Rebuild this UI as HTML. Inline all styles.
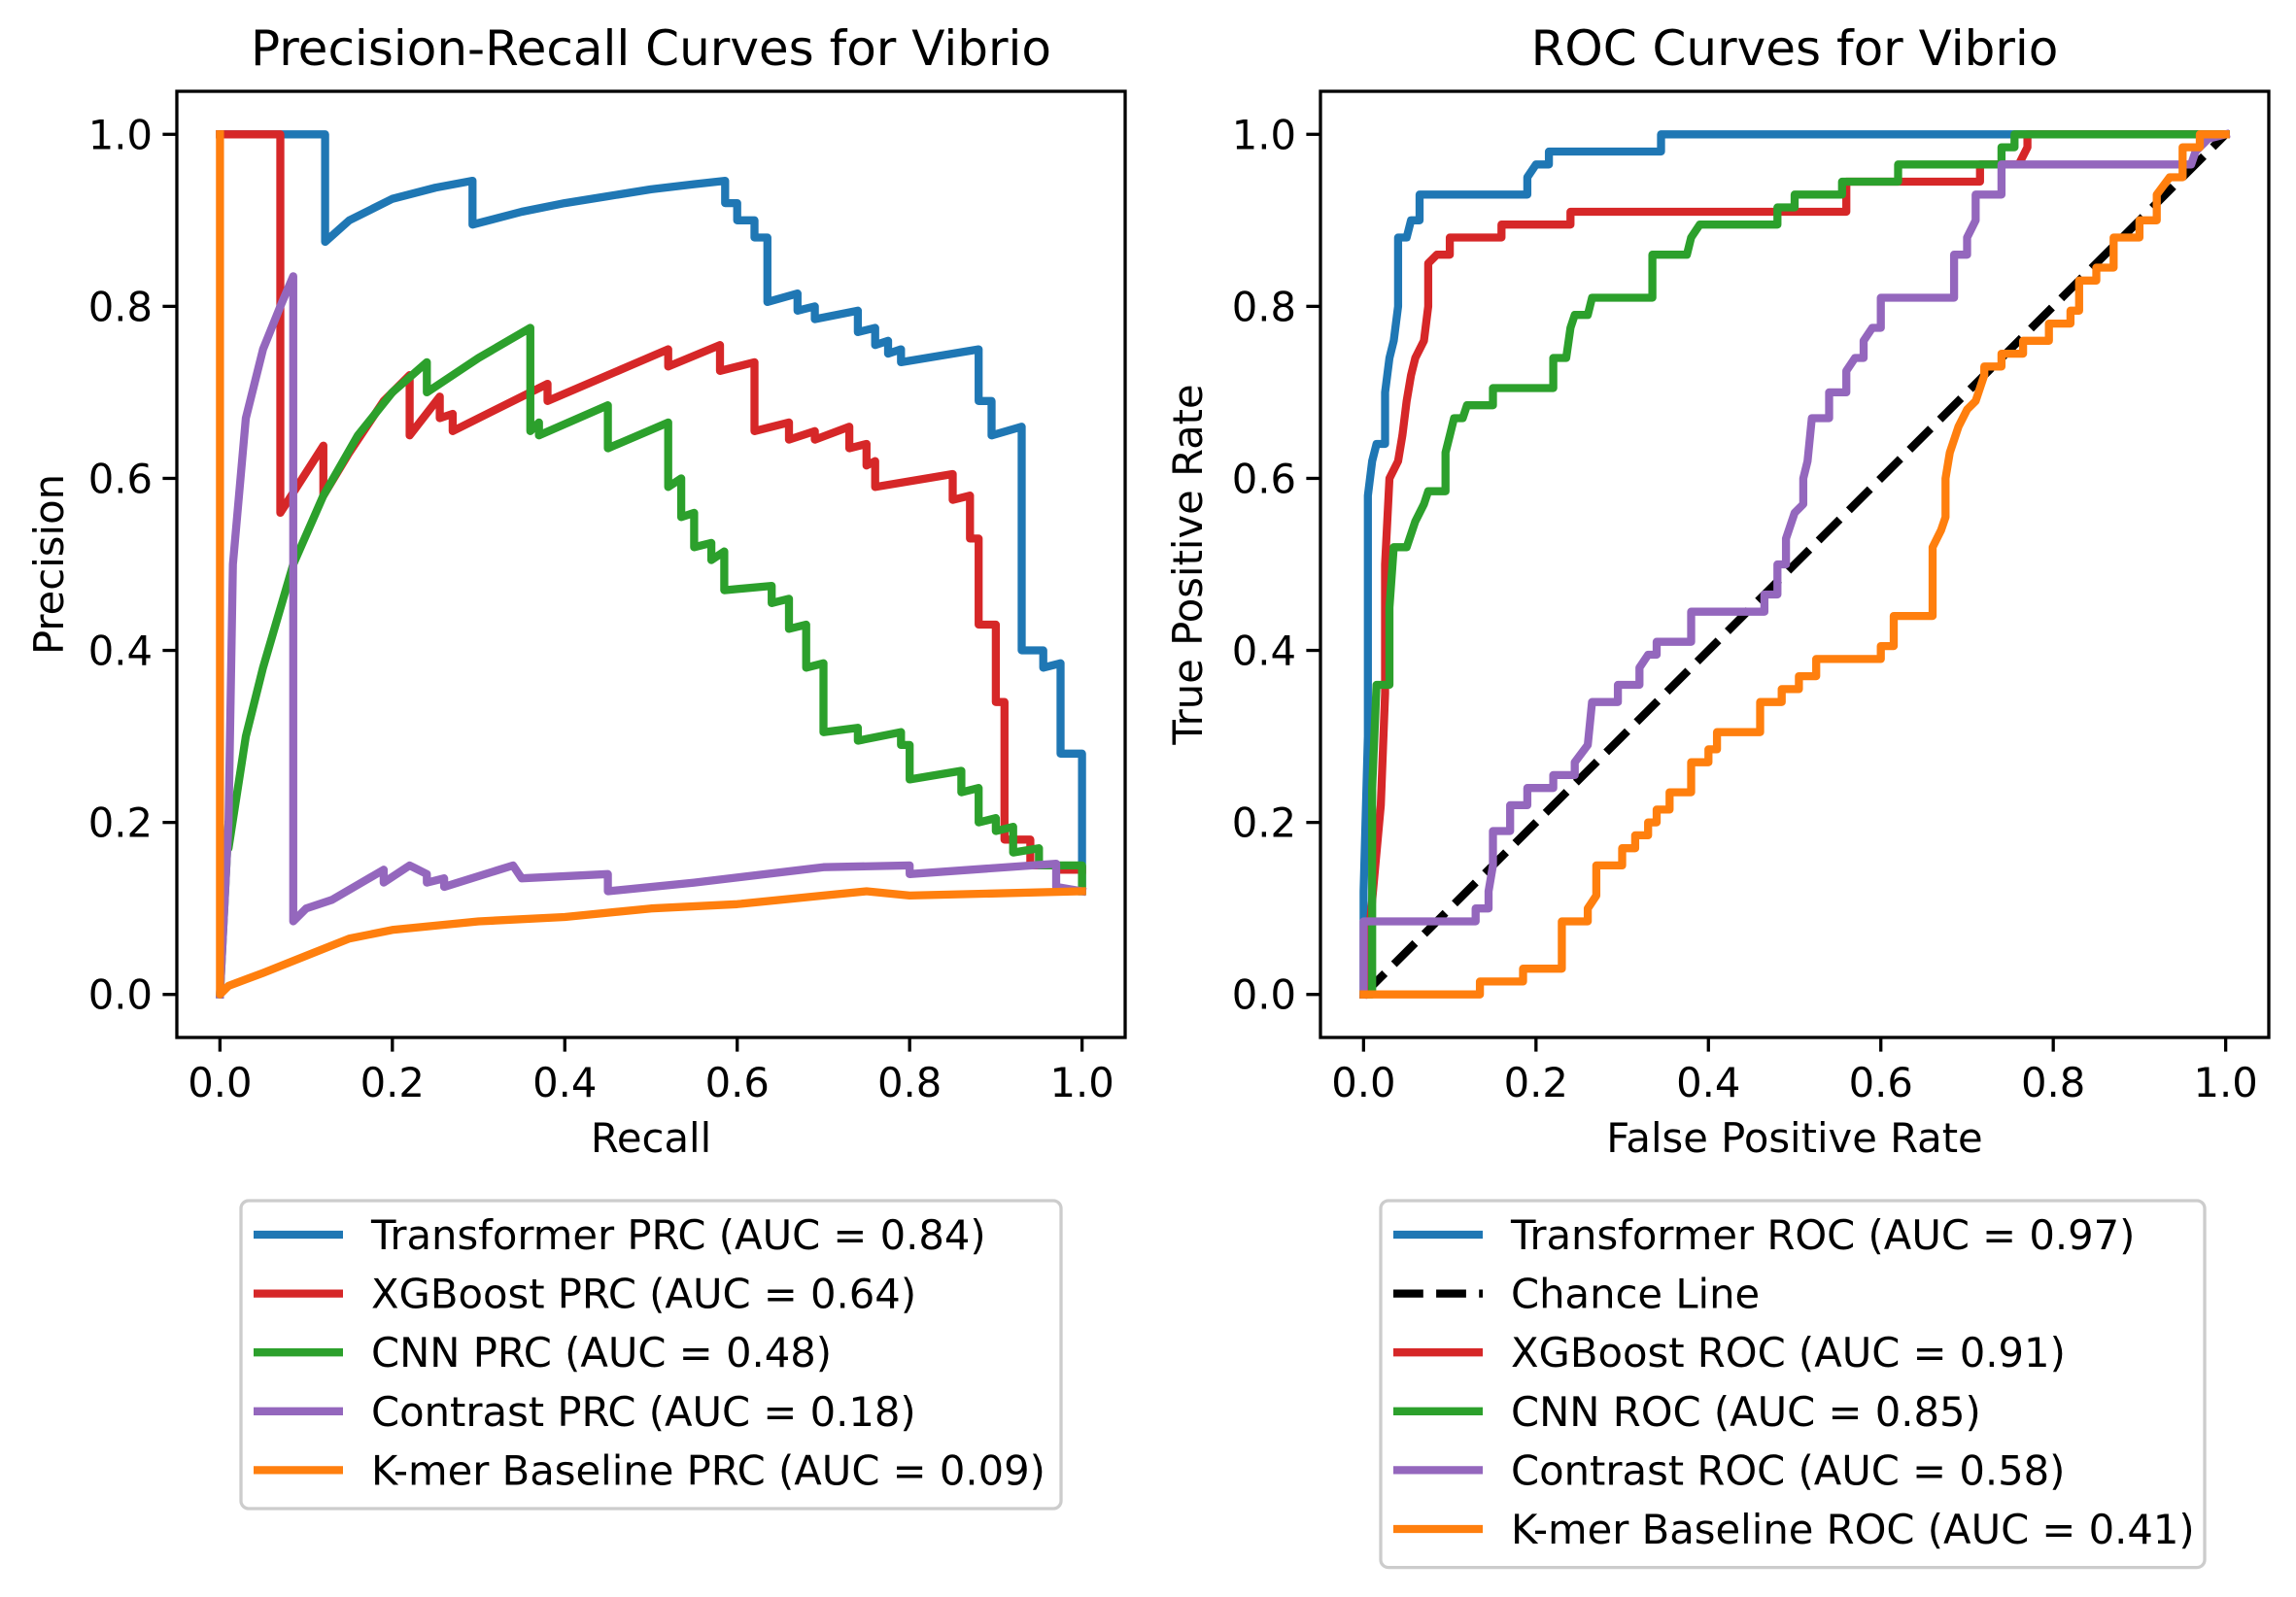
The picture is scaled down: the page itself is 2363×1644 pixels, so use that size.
<!DOCTYPE html>
<html><head><meta charset="utf-8"><style>
html,body{margin:0;padding:0;background:#fff;}
svg{display:block;}
text{font-family:"DejaVu Sans","Liberation Sans",sans-serif;fill:#000;}
</style></head><body>
<svg id="fig" width="2363" height="1644" viewBox="0 0 2363 1644" xmlns="http://www.w3.org/2000/svg">
<rect width="2363" height="1644" fill="#fff"/>
<g id="pr"></g>
<g id="roc"></g>
</svg>
<script>
const tickValues=[0,0.2,0.4,0.6,0.8,1.0];
const tickLabels=["0.0","0.2","0.4","0.6","0.8","1.0"];
const prNames=["Transformer PRC (AUC = 0.84)","XGBoost PRC (AUC = 0.64)","CNN PRC (AUC = 0.48)","Contrast PRC (AUC = 0.18)","K-mer Baseline PRC (AUC = 0.09)"];
const rocNames=["Transformer ROC (AUC = 0.97)","Chance Line","XGBoost ROC (AUC = 0.91)","CNN ROC (AUC = 0.85)","Contrast ROC (AUC = 0.58)","K-mer Baseline ROC (AUC = 0.41)"];
const prTransformer=[[0,1],[0.122,1],[0.122,0.875],[0.15,0.9],[0.2,0.925],[0.25,0.938],[0.293,0.946],[0.293,0.895],[0.35,0.91],[0.4,0.92],[0.45,0.928],[0.5,0.936],[0.55,0.942],[0.586,0.946],[0.586,0.92],[0.6,0.92],[0.6,0.9],[0.62,0.9],[0.62,0.88],[0.635,0.88],[0.635,0.805],[0.67,0.815],[0.67,0.795],[0.69,0.8],[0.69,0.785],[0.74,0.795],[0.74,0.77],[0.76,0.775],[0.76,0.755],[0.775,0.76],[0.775,0.745],[0.79,0.75],[0.79,0.735],[0.88,0.75],[0.88,0.69],[0.895,0.69],[0.895,0.65],[0.93,0.66],[0.93,0.40],[0.955,0.40],[0.955,0.38],[0.975,0.385],[0.975,0.28],[1.0,0.28],[1.0,0.12]];
const prXGBoost=[[0,1],[0.07,1],[0.07,0.56],[0.12,0.638],[0.12,0.58],[0.15,0.63],[0.19,0.69],[0.22,0.72],[0.22,0.65],[0.255,0.695],[0.255,0.67],[0.27,0.675],[0.27,0.655],[0.38,0.71],[0.38,0.69],[0.52,0.75],[0.52,0.73],[0.58,0.755],[0.58,0.725],[0.62,0.735],[0.62,0.655],[0.66,0.665],[0.66,0.645],[0.69,0.655],[0.69,0.645],[0.73,0.66],[0.73,0.635],[0.75,0.64],[0.75,0.615],[0.76,0.62],[0.76,0.59],[0.85,0.605],[0.85,0.575],[0.87,0.58],[0.87,0.53],[0.88,0.53],[0.88,0.43],[0.9,0.43],[0.9,0.34],[0.91,0.34],[0.91,0.18],[0.94,0.18],[0.94,0.15],[0.97,0.15],[0.97,0.145],[1.0,0.145]];
const prCNN=[[0,0],[0.01,0.2],[0.01,0.17],[0.03,0.3],[0.05,0.38],[0.085,0.5],[0.12,0.58],[0.16,0.65],[0.2,0.7],[0.24,0.735],[0.24,0.7],[0.3,0.74],[0.36,0.775],[0.36,0.655],[0.37,0.665],[0.37,0.65],[0.45,0.685],[0.45,0.635],[0.52,0.665],[0.52,0.59],[0.535,0.6],[0.535,0.555],[0.55,0.56],[0.55,0.52],[0.57,0.525],[0.57,0.505],[0.585,0.515],[0.585,0.47],[0.64,0.475],[0.64,0.455],[0.66,0.46],[0.66,0.425],[0.68,0.43],[0.68,0.38],[0.7,0.385],[0.7,0.305],[0.74,0.31],[0.74,0.295],[0.79,0.305],[0.79,0.29],[0.8,0.29],[0.8,0.25],[0.86,0.26],[0.86,0.235],[0.88,0.24],[0.88,0.2],[0.9,0.205],[0.9,0.19],[0.92,0.195],[0.92,0.165],[0.95,0.17],[0.95,0.15],[1.0,0.15],[1.0,0.12]];
const prContrast=[[0,0],[0.01,0.2],[0.015,0.5],[0.03,0.67],[0.05,0.75],[0.07,0.8],[0.085,0.835],[0.085,0.085],[0.1,0.1],[0.13,0.11],[0.19,0.145],[0.19,0.13],[0.22,0.15],[0.24,0.14],[0.24,0.13],[0.26,0.135],[0.26,0.125],[0.34,0.15],[0.35,0.135],[0.45,0.14],[0.45,0.12],[0.55,0.13],[0.7,0.148],[0.8,0.15],[0.8,0.14],[0.97,0.152],[0.97,0.125],[1.0,0.12]];
const prKmer=[[0,1],[0,0],[0.01,0.01],[0.05,0.025],[0.1,0.045],[0.15,0.065],[0.2,0.075],[0.3,0.085],[0.4,0.09],[0.5,0.1],[0.6,0.105],[0.7,0.115],[0.75,0.12],[0.8,0.115],[1.0,0.12]];
const rocTransformer=[[0,0],[0,0.12],[0.005,0.3],[0.005,0.58],[0.01,0.62],[0.015,0.64],[0.025,0.64],[0.025,0.7],[0.03,0.74],[0.035,0.76],[0.04,0.8],[0.04,0.88],[0.05,0.88],[0.055,0.9],[0.065,0.9],[0.065,0.93],[0.19,0.93],[0.19,0.95],[0.2,0.965],[0.215,0.965],[0.215,0.98],[0.345,0.98],[0.345,1.0],[1,1]];
const rocChance=[[0,0],[1,1]];
const rocXGBoost=[[0,0],[0.02,0.22],[0.025,0.35],[0.025,0.5],[0.03,0.6],[0.04,0.62],[0.045,0.65],[0.05,0.69],[0.055,0.72],[0.06,0.74],[0.07,0.76],[0.075,0.8],[0.075,0.85],[0.085,0.86],[0.1,0.86],[0.1,0.88],[0.16,0.88],[0.16,0.895],[0.24,0.895],[0.24,0.91],[0.56,0.91],[0.56,0.945],[0.715,0.945],[0.715,0.965],[0.76,0.965],[0.77,0.985],[0.77,1],[1,1]];
const rocCNN=[[0,0],[0.01,0],[0.01,0.24],[0.015,0.36],[0.03,0.36],[0.03,0.45],[0.035,0.52],[0.05,0.52],[0.06,0.55],[0.07,0.57],[0.075,0.585],[0.095,0.585],[0.095,0.63],[0.1,0.65],[0.105,0.67],[0.115,0.67],[0.12,0.685],[0.15,0.685],[0.15,0.705],[0.22,0.705],[0.22,0.74],[0.235,0.74],[0.24,0.775],[0.245,0.79],[0.26,0.79],[0.265,0.81],[0.335,0.81],[0.335,0.86],[0.375,0.86],[0.38,0.88],[0.39,0.895],[0.48,0.895],[0.48,0.915],[0.5,0.915],[0.5,0.93],[0.555,0.93],[0.555,0.945],[0.62,0.945],[0.62,0.965],[0.74,0.965],[0.74,0.985],[0.755,0.985],[0.755,1],[1,1]];
const rocContrast=[[0,0],[0,0.085],[0.13,0.085],[0.13,0.1],[0.145,0.1],[0.145,0.12],[0.15,0.15],[0.15,0.19],[0.17,0.19],[0.17,0.22],[0.19,0.22],[0.19,0.24],[0.22,0.24],[0.22,0.255],[0.245,0.255],[0.245,0.27],[0.26,0.29],[0.265,0.34],[0.295,0.34],[0.295,0.36],[0.32,0.36],[0.32,0.38],[0.33,0.395],[0.34,0.395],[0.34,0.41],[0.38,0.41],[0.38,0.445],[0.465,0.445],[0.465,0.465],[0.48,0.465],[0.48,0.5],[0.49,0.5],[0.49,0.53],[0.5,0.56],[0.51,0.57],[0.51,0.6],[0.515,0.62],[0.52,0.67],[0.54,0.67],[0.54,0.7],[0.56,0.7],[0.56,0.725],[0.57,0.74],[0.58,0.74],[0.58,0.76],[0.59,0.775],[0.6,0.775],[0.6,0.81],[0.685,0.81],[0.685,0.86],[0.7,0.86],[0.7,0.88],[0.71,0.9],[0.71,0.93],[0.74,0.93],[0.74,0.965],[0.96,0.965],[0.965,0.98],[0.98,0.995],[1,1]];
const rocKmer=[[0,0],[0.135,0],[0.135,0.015],[0.185,0.015],[0.185,0.03],[0.23,0.03],[0.23,0.085],[0.26,0.085],[0.26,0.1],[0.27,0.115],[0.27,0.15],[0.3,0.15],[0.3,0.17],[0.315,0.17],[0.315,0.185],[0.33,0.185],[0.33,0.2],[0.34,0.2],[0.34,0.215],[0.355,0.215],[0.355,0.235],[0.38,0.235],[0.38,0.27],[0.4,0.27],[0.4,0.285],[0.41,0.285],[0.41,0.305],[0.46,0.305],[0.46,0.34],[0.485,0.34],[0.485,0.355],[0.505,0.355],[0.505,0.37],[0.525,0.37],[0.525,0.39],[0.6,0.39],[0.6,0.405],[0.615,0.405],[0.615,0.44],[0.66,0.44],[0.66,0.52],[0.67,0.54],[0.675,0.555],[0.675,0.6],[0.68,0.63],[0.69,0.66],[0.7,0.68],[0.71,0.69],[0.72,0.72],[0.72,0.73],[0.74,0.73],[0.74,0.745],[0.765,0.745],[0.765,0.76],[0.795,0.76],[0.795,0.78],[0.82,0.78],[0.82,0.795],[0.83,0.795],[0.83,0.83],[0.85,0.83],[0.85,0.845],[0.87,0.845],[0.87,0.88],[0.9,0.88],[0.9,0.9],[0.92,0.9],[0.92,0.93],[0.935,0.95],[0.95,0.95],[0.95,0.985],[0.97,0.985],[0.97,1],[1,1]];

const NS="http://www.w3.org/2000/svg";
const C={blue:"#1f77b4",red:"#d62728",green:"#2ca02c",purple:"#9467bd",orange:"#ff7f0e"};
function mk(parent,tag,attrs,txt){const e=document.createElementNS(NS,tag);for(const k in attrs)e.setAttribute(k,attrs[k]);if(txt!==undefined)e.textContent=txt;parent.appendChild(e);return e;}

function drawPanel(g,cfg){
  const L=cfg.left,R=cfg.right,T=94,B=1068;
  const padX=(R-L)/1.1*0.05,padY=(B-T)/1.1*0.05;
  const sx=v=>L+padX+v*(R-L-2*padX);
  const sy=v=>B-padY-v*(B-T-2*padY);
  const t=mk(g,"text",{x:(L+R)/2,y:67,"text-anchor":"middle","font-size":"50"},cfg.title);
  
  
  const plot=mk(g,"g",{});
  
  
  cfg.series.forEach(s=>{
    const pts=s.data.map(p=>sx(p[0]).toFixed(1)+","+sy(p[1]).toFixed(1)).join(" ");
    const a={points:pts,fill:"none",stroke:s.color,"stroke-width":"8.3","stroke-linejoin":"round","stroke-linecap":"square"};
    if(s.dash){a["stroke-dasharray"]="30.8 13.3";a["stroke-linecap"]="butt";}
    const pl=mk(plot,"polyline",a);
    
    
  });
  const frame=mk(g,"rect",{x:L,y:T,width:R-L,height:B-T,fill:"none",stroke:"#000","stroke-width":"3.3"});
  
  
  tickValues.forEach((v,i)=>{
    const x=sx(v),y=sy(v);
    const tx=mk(g,"line",{x1:x,x2:x,y1:B,y2:B+14.6,stroke:"#000","stroke-width":"3.3"});
    
    
    const lx=mk(g,"text",{x:x,y:1129,"text-anchor":"middle","font-size":"41.7"},tickLabels[i]);
    
    
    const ty=mk(g,"line",{x1:L-14.6,x2:L,y1:y,y2:y,stroke:"#000","stroke-width":"3.3"});
    
    
    const ly=mk(g,"text",{x:L-25,y:y+15,"text-anchor":"end","font-size":"41.7"},tickLabels[i]);
    
    
  });
  const xl=mk(g,"text",{x:(L+R)/2,y:1186,"text-anchor":"middle","font-size":"41.7"},cfg.xlabel);
  
  
  const yx=cfg.ylabelX;
  const yl=mk(g,"text",{x:yx,y:(T+B)/2,"text-anchor":"middle","font-size":"41.7",transform:`rotate(-90 ${yx} ${(T+B)/2})`},cfg.ylabel);
  
  
  const lg=mk(g,"g",{});
  
  
  const n=cfg.series.length;
  mk(lg,"rect",{x:cfg.legX,y:1236,width:cfg.legW,height:n*60.6+14,rx:8,fill:"#fff","fill-opacity":"0.8",stroke:"#cccccc","stroke-width":"3.3"});
  cfg.series.forEach((s,i)=>{
    const cy=1271+i*60.6;
    const e=mk(lg,"g",{});
    
    
    const a={x1:cfg.legX+13,x2:cfg.legX+105,y1:cy,y2:cy,stroke:s.color,"stroke-width":"8.3"};
    if(s.dash){a["stroke-dasharray"]="30.8 13.3";}
    mk(e,"line",a);
    mk(e,"text",{x:cfg.legX+134,y:cy+15,"font-size":"41.7"},s.name);
  });
}

drawPanel(document.getElementById("pr"),{left:182,right:1158,title:"Precision-Recall Curves for Vibrio",xlabel:"Recall",ylabel:"Precision",ylabelX:65,legX:248,legW:844,
  series:[{id:"transformer-prc-line",data:prTransformer,color:C.blue,name:prNames[0]},
          {id:"xgboost-prc-line",data:prXGBoost,color:C.red,name:prNames[1]},
          {id:"cnn-prc-line",data:prCNN,color:C.green,name:prNames[2]},
          {id:"contrast-prc-line",data:prContrast,color:C.purple,name:prNames[3]},
          {id:"kmer-prc-line",data:prKmer,color:C.orange,name:prNames[4]}]});
drawPanel(document.getElementById("roc"),{left:1359,right:2335,title:"ROC Curves for Vibrio",xlabel:"False Positive Rate",ylabel:"True Positive Rate",ylabelX:1237,legX:1421,legW:848,
  series:[{id:"transformer-roc-line",data:rocTransformer,color:C.blue,name:rocNames[0]},
          {id:"chance-line",data:rocChance,color:"#000",dash:true,name:rocNames[1]},
          {id:"xgboost-roc-line",data:rocXGBoost,color:C.red,name:rocNames[2]},
          {id:"cnn-roc-line",data:rocCNN,color:C.green,name:rocNames[3]},
          {id:"contrast-roc-line",data:rocContrast,color:C.purple,name:rocNames[4]},
          {id:"kmer-roc-line",data:rocKmer,color:C.orange,name:rocNames[5]}]});
</script>
</body></html>
